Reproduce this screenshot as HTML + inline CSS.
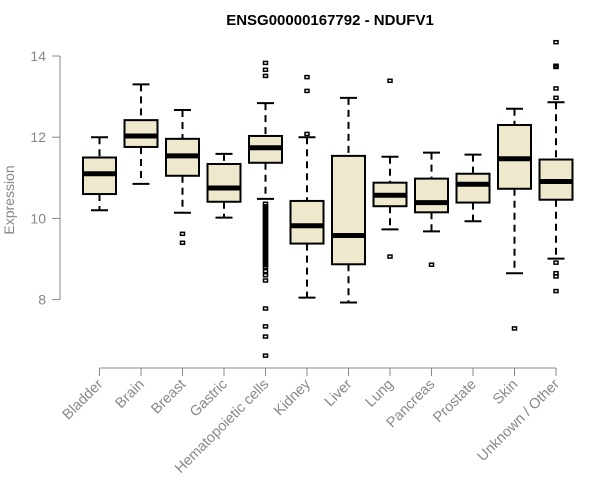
<!DOCTYPE html>
<html><head><meta charset="utf-8"><style>
html,body{margin:0;padding:0;background:#fff;}
svg{display:block;font-family:"Liberation Sans",Arial,sans-serif;}
</style></head><body>
<svg id="chart" width="600" height="500" viewBox="0 0 600 500">
<text x="330" y="25" text-anchor="middle" font-weight="bold" font-size="15" fill="#000">ENSG00000167792 - NDUFV1</text>
<g id="yaxis"></g>
<g id="xaxis"></g>
<g id="boxes"></g>
<text transform="translate(14,200) rotate(-90)" text-anchor="middle" font-size="14" fill="#888">Expression</text>
</svg>
<script>
const categories=["Bladder","Brain","Breast","Gastric","Hematopoietic cells","Kidney","Liver","Lung","Pancreas","Prostate","Skin","Unknown / Other"];
const whiskerLow=[10.2,10.85,10.14,10.02,10.48,8.05,7.93,9.73,9.68,9.93,8.65,9.01];
const q1=[10.6,11.76,11.05,10.41,11.37,9.38,8.87,10.3,10.15,10.39,10.73,10.46];
const medians=[11.1,12.03,11.54,10.75,11.74,9.82,9.58,10.57,10.39,10.84,11.47,10.91];
const q3=[11.5,12.42,11.96,11.34,12.03,10.43,11.54,10.88,10.98,11.1,12.3,11.45];
const whiskerHigh=[12.0,13.3,12.67,11.59,12.84,12.0,12.97,11.52,11.62,11.57,12.7,12.86];
const outliers=[[],[],[9.62,9.4],[],
[13.83,13.66,13.51,10.36,10.3,10.25,10.2,10.15,10.1,10.05,10.0,9.95,9.9,9.85,9.8,9.75,9.7,9.65,9.6,9.55,9.5,9.45,9.4,9.35,9.3,9.25,9.2,9.15,9.1,9.05,9.0,8.95,8.9,8.85,8.8,8.7,8.6,8.47,7.78,7.34,7.09,6.62],
[13.48,13.14,12.08],[],[13.39,9.06],[8.86],[],[7.29],
[14.34,13.76,13.73,13.2,12.97,8.91,8.65,8.57,8.21]];
const yTicks=[8,10,12,14];
const NS="http://www.w3.org/2000/svg";
function y(v){return 56+(14-v)*40.6;}
function x(i){return 99.5+i*41.5;}
function mk(tag,attrs,parent){const e=document.createElementNS(NS,tag);for(const k in attrs)e.setAttribute(k,attrs[k]);parent.appendChild(e);return e;}
const ya=document.getElementById('yaxis');
let l=mk('line',{x1:60,x2:60,y1:y(14),y2:y(8),stroke:'#888'},ya);


yTicks.forEach(t=>{
 let tk=mk('line',{x1:52,x2:60,y1:y(t),y2:y(t),stroke:'#888'},ya);
 
 
 let tx=mk('text',{x:46,y:y(t)+5,'text-anchor':'end','font-size':14,fill:'#888'},ya);
 tx.textContent=t;
 
 
});
const xa=document.getElementById('xaxis');
let xl=mk('line',{x1:x(0),x2:x(categories.length-1),y1:368,y2:368,stroke:'#888'},xa);


categories.forEach((c,i)=>{
 let tk=mk('line',{x1:x(i),x2:x(i),y1:368,y2:376,stroke:'#888'},xa);
 
 
 let tx=mk('text',{transform:`translate(${x(i)+4},${385}) rotate(-45)`,'text-anchor':'end','font-size':14.5,fill:'#888'},xa);
 tx.textContent=c;
 
 
});
const bx=document.getElementById('boxes');
categories.forEach((c,i)=>{
 const g=mk('g',{},bx);
 
 
 const cx=x(i),hw=16.5,cw=8.5;
 mk('line',{x1:cx,x2:cx,y1:y(whiskerHigh[i]),y2:y(q3[i]),stroke:'#000','stroke-width':2,'stroke-dasharray':'7,5'},g);
 mk('line',{x1:cx,x2:cx,y1:y(q1[i]),y2:y(whiskerLow[i]),stroke:'#000','stroke-width':2,'stroke-dasharray':'7,5'},g);
 mk('line',{x1:cx-cw,x2:cx+cw,y1:y(whiskerHigh[i]),y2:y(whiskerHigh[i]),stroke:'#000','stroke-width':2},g);
 mk('line',{x1:cx-cw,x2:cx+cw,y1:y(whiskerLow[i]),y2:y(whiskerLow[i]),stroke:'#000','stroke-width':2},g);
 mk('rect',{x:cx-hw,y:y(q3[i]),width:hw*2,height:y(q1[i])-y(q3[i]),fill:'#EEE8CD',stroke:'#000','stroke-width':2},g);
 mk('line',{x1:cx-hw,x2:cx+hw,y1:y(medians[i]),y2:y(medians[i]),stroke:'#000','stroke-width':5},g);
 outliers[i].forEach(v=>{
  const o=mk('rect',{x:cx-2,y:y(v)-1.5,width:4,height:3,fill:'none',stroke:'#000','stroke-width':1.5},g);
  
  
 });
});
</script>
</body></html>
